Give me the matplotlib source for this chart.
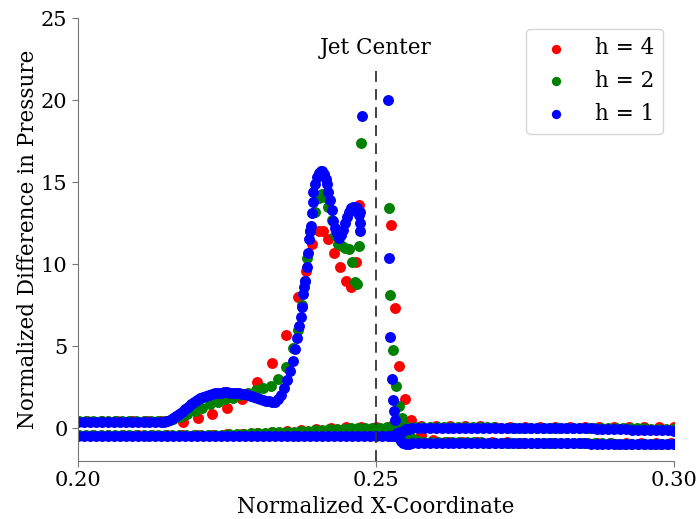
import matplotlib
matplotlib.use('Agg')
import matplotlib.pyplot as plt

plt.rcParams['font.family'] = 'serif'
plt.rcParams['font.serif'] = ['DejaVu Serif']

JET_X = 0.25
LABELS = ['h = 4', 'h = 2', 'h = 1']
COLORS = ['red', 'green', 'blue']

# h = 4 : upper surface (with the jet spike) and lower surface
red_up_x = [0.199, 0.2015, 0.204, 0.2065, 0.209, 0.2115, 0.214, 0.2150, 0.2176, 0.2201,
            0.2225, 0.2250, 0.2275, 0.2300, 0.2326, 0.2349, 0.2369, 0.2383, 0.2393, 0.2404,
            0.2411, 0.2419, 0.2430, 0.2440, 0.2450, 0.2458, 0.2466, 0.2471,
            0.2526, 0.2532, 0.2539, 0.2549, 0.2559, 0.2575, 0.2595, 0.2620,
            0.2645, 0.2670, 0.2695, 0.2720, 0.2745, 0.2770, 0.2795, 0.2820, 0.2845,
            0.2870, 0.2895, 0.2920, 0.2945, 0.2970, 0.2995, 0.3020]
red_up_y = [0.45, 0.45, 0.45, 0.45, 0.45, 0.45, 0.45, 0.42, 0.40, 0.60,
            0.88, 1.22, 1.80, 2.80, 4.00, 5.70, 8.00, 9.60, 11.2, 12.0,
            12.0, 11.5, 10.7, 9.80, 9.00, 8.60, 10.1, 13.6,
            12.4, 7.30, 3.80, 1.80, 0.50, -0.40, -0.75, -0.85,
            -0.86, -0.86, -0.87, -0.87, -0.88, -0.88, -0.89, -0.89, -0.90,
            -0.90, -0.91, -0.91, -0.92, -0.92, -0.93, -0.93]
red_lo_x = [0.2000, 0.2025, 0.2050, 0.2075, 0.2100, 0.2125, 0.2150, 0.2175, 0.2200, 0.2225,
            0.2250, 0.2275, 0.2300, 0.2325, 0.2350, 0.2375, 0.2400, 0.2425, 0.2450, 0.2475,
            0.2500, 0.2525, 0.2550, 0.2575, 0.2600, 0.2625, 0.2650, 0.2675, 0.2700, 0.2725,
            0.2750, 0.2775, 0.2800, 0.2825, 0.2850, 0.2875, 0.2900, 0.2925, 0.2950, 0.2975,
            0.3000]
red_lo_y = [-0.42, -0.42, -0.42, -0.42, -0.42, -0.42, -0.42, -0.42, -0.42, -0.40,
            -0.37, -0.33, -0.28, -0.23, -0.18, -0.12, -0.06, 0.00, 0.05, 0.08,
            0.10, 0.12, 0.12, 0.12, 0.11, 0.11, 0.11, 0.11, 0.10, 0.10,
            0.10, 0.10, 0.10, 0.09, 0.09, 0.08, 0.08, 0.07, 0.06, 0.06,
            0.05]

# h = 2
green_up_x = [0.1990, 0.2002, 0.2014, 0.2026, 0.2038, 0.2050, 0.2062, 0.2074, 0.2086, 0.2098,
              0.2110, 0.2122, 0.2134, 0.2146, 0.2159, 0.2171, 0.2183, 0.2196, 0.2208, 0.2221,
              0.2235, 0.2247, 0.2260, 0.2272, 0.2285, 0.2299, 0.2310, 0.2324, 0.2336, 0.2349,
              0.2361, 0.2369, 0.2376, 0.2381, 0.2384, 0.2389, 0.2398, 0.2404, 0.2409, 0.2414,
              0.2419, 0.2426, 0.2431, 0.2436, 0.2443, 0.2448, 0.2455, 0.2460, 0.2465, 0.2468,
              0.2471, 0.2475,
              0.2522, 0.2524, 0.2529, 0.2534, 0.2539, 0.2544, 0.2550, 0.2556, 0.2562, 0.2570,
              0.2580, 0.2592, 0.2604, 0.2616, 0.2628, 0.2640, 0.2652, 0.2664, 0.2676, 0.2688,
              0.2700, 0.2712, 0.2724, 0.2736, 0.2748, 0.2760, 0.2772, 0.2784, 0.2796, 0.2808,
              0.2820, 0.2832, 0.2844, 0.2856, 0.2868, 0.2880, 0.2892, 0.2904, 0.2916, 0.2928,
              0.2940, 0.2952, 0.2964, 0.2976, 0.2988, 0.3000, 0.3012]
green_up_y = [0.42, 0.42, 0.42, 0.42, 0.42, 0.42, 0.42, 0.42, 0.42, 0.42,
              0.42, 0.42, 0.42, 0.44, 0.55, 0.70, 0.85, 1.05, 1.25, 1.45,
              1.60, 1.75, 1.85, 2.00, 2.15, 2.30, 2.42, 2.56, 2.97, 3.70,
              4.86, 6.00, 7.50, 9.00, 10.4, 12.0, 13.2, 14.0, 14.3, 14.1,
              13.5, 12.7, 11.8, 11.2, 11.1, 11.0, 10.9, 10.1, 8.90, 8.80,
              11.1, 17.4,
              13.4, 8.10, 4.75, 2.60, 1.34, 0.60, 0.00, -0.40, -0.65, -0.80,
              -0.85, -0.86, -0.86, -0.86, -0.86, -0.87, -0.87, -0.87, -0.87, -0.88,
              -0.88, -0.88, -0.89, -0.89, -0.89, -0.90, -0.90, -0.90, -0.91, -0.91,
              -0.91, -0.92, -0.92, -0.92, -0.93, -0.93, -0.93, -0.94, -0.94, -0.94,
              -0.95, -0.95, -0.95, -0.95, -0.96, -0.96, -0.96]
green_lo_x = [0.1990, 0.2002, 0.2014, 0.2026, 0.2038, 0.2050, 0.2062, 0.2074, 0.2086, 0.2098,
              0.2110, 0.2122, 0.2134, 0.2146, 0.2158, 0.2170, 0.2182, 0.2194, 0.2206, 0.2218,
              0.2230, 0.2242, 0.2254, 0.2266, 0.2278, 0.2290, 0.2302, 0.2314, 0.2326, 0.2338,
              0.2350, 0.2362, 0.2374, 0.2386, 0.2398, 0.2410, 0.2422, 0.2434, 0.2446, 0.2458,
              0.2470, 0.2482, 0.2494, 0.2506, 0.2518, 0.2530, 0.2542, 0.2554, 0.2566, 0.2578,
              0.2590, 0.2602, 0.2614, 0.2626, 0.2638, 0.2650, 0.2662, 0.2674, 0.2686, 0.2698,
              0.2710, 0.2722, 0.2734, 0.2746, 0.2758, 0.2770, 0.2782, 0.2794, 0.2806, 0.2818,
              0.2830, 0.2842, 0.2854, 0.2866, 0.2878, 0.2890, 0.2902, 0.2914, 0.2926, 0.2938,
              0.2950, 0.2962, 0.2974, 0.2986, 0.2998, 0.3010]
green_lo_y = [-0.42, -0.42, -0.42, -0.42, -0.42, -0.42, -0.42, -0.42, -0.42, -0.42,
              -0.42, -0.42, -0.42, -0.42, -0.42, -0.42, -0.42, -0.42, -0.41, -0.41,
              -0.40, -0.39, -0.37, -0.35, -0.33, -0.31, -0.29, -0.28, -0.26, -0.25,
              -0.24, -0.22, -0.19, -0.16, -0.13, -0.11, -0.08, -0.06, -0.03, -0.02,
              0.00, 0.01, 0.03, 0.04, 0.05, 0.06, 0.06, 0.06, 0.06, 0.06,
              0.06, 0.05, 0.05, 0.05, 0.05, 0.05, 0.05, 0.05, 0.05, 0.05,
              0.04, 0.04, 0.04, 0.04, 0.04, 0.03, 0.03, 0.03, 0.03, 0.03,
              0.02, 0.02, 0.02, 0.01, 0.01, 0.00, 0.00, -0.01, -0.01, -0.02,
              -0.02, -0.03, -0.03, -0.04, -0.05, -0.05]

# h = 1
blue_up_x = [0.199, 0.200, 0.201, 0.202, 0.203, 0.204, 0.205, 0.206, 0.207, 0.208,
             0.209, 0.210, 0.211, 0.212, 0.213, 0.214,
             0.2145, 0.2150, 0.2155, 0.2160, 0.2165, 0.2170, 0.2175, 0.2180, 0.2185, 0.2190,
             0.2195, 0.2200, 0.2205, 0.2210, 0.2215, 0.2220, 0.2225, 0.2230, 0.2235, 0.2240,
             0.2245, 0.2250, 0.2255, 0.2260, 0.2265, 0.2270, 0.2275, 0.2280, 0.2285, 0.2290,
             0.2295, 0.2300, 0.2305, 0.2310, 0.2315, 0.2320, 0.2325, 0.2330, 0.2335, 0.2340,
             0.2345, 0.2350, 0.2355, 0.2360,
             0.2364, 0.2367, 0.2371, 0.2374, 0.2376, 0.2378, 0.2380, 0.2381, 0.2384, 0.2386,
             0.2388, 0.2390, 0.2391, 0.2393, 0.2394, 0.2395, 0.2398, 0.2401, 0.2404, 0.2407,
             0.2410, 0.2413, 0.2416, 0.2418, 0.2420, 0.2423, 0.2426, 0.2428, 0.2431, 0.2434,
             0.2438, 0.2441, 0.2445, 0.2448, 0.2451, 0.2455, 0.2458, 0.2461, 0.2465, 0.2468,
             0.2471, 0.2474, 0.2473, 0.2473, 0.2477,
             0.2520, 0.2522, 0.2524, 0.2527, 0.2529, 0.2530, 0.2532, 0.2535, 0.2538, 0.2542,
             0.2546, 0.2550, 0.2555, 0.2560, 0.2570, 0.2580, 0.2590, 0.2600,
             0.261, 0.262, 0.263, 0.264, 0.265, 0.266, 0.267, 0.268, 0.269, 0.270,
             0.271, 0.272, 0.273, 0.274, 0.275, 0.276, 0.277, 0.278, 0.279, 0.280,
             0.281, 0.282, 0.283, 0.284, 0.285, 0.286, 0.287, 0.288, 0.289, 0.290,
             0.291, 0.292, 0.293, 0.294, 0.295, 0.296, 0.297, 0.298, 0.299, 0.300, 0.301]
blue_up_y = [0.38, 0.38, 0.38, 0.38, 0.38, 0.38, 0.38, 0.38, 0.38, 0.38,
             0.38, 0.38, 0.38, 0.38, 0.38, 0.38,
             0.40, 0.42, 0.50, 0.60, 0.72, 0.85, 1.00, 1.15, 1.30, 1.45,
             1.60, 1.72, 1.82, 1.90, 1.97, 2.03, 2.08, 2.12, 2.15, 2.17,
             2.18, 2.18, 2.17, 2.16, 2.14, 2.12, 2.09, 2.06, 2.02, 1.97,
             1.92, 1.86, 1.80, 1.74, 1.68, 1.63, 1.60, 1.62, 1.75, 2.00,
             2.45, 2.95, 3.50, 4.10,
             4.80, 5.50, 6.20, 6.80, 7.40, 8.20, 8.60, 9.00, 9.80, 10.7,
             11.5, 12.0, 12.3, 13.1, 13.8, 14.4, 14.9, 15.3, 15.55, 15.7,
             15.7, 15.5, 15.2, 14.9, 14.4, 13.9, 13.3, 12.6, 12.2, 11.9,
             11.6, 11.8, 12.1, 12.5, 12.9, 13.2, 13.4, 13.5, 13.5, 13.4,
             13.0, 13.2, 12.5, 12.0, 19.0,
             20.0, 10.4, 5.55, 3.00, 1.70, 1.04, 0.50, -0.30, -0.60, -0.80,
             -0.92, -0.95, -0.95, -0.93, -0.90, -0.88, -0.88, -0.88,
             -0.88, -0.88, -0.88, -0.88, -0.88, -0.89, -0.89, -0.89, -0.89, -0.90,
             -0.90, -0.90, -0.90, -0.91, -0.91, -0.91, -0.91, -0.92, -0.92, -0.92,
             -0.92, -0.93, -0.93, -0.93, -0.93, -0.94, -0.94, -0.94, -0.94, -0.95,
             -0.95, -0.95, -0.95, -0.96, -0.96, -0.96, -0.96, -0.97, -0.97, -0.97, -0.97]
blue_lo_x = [0.199, 0.200, 0.201, 0.202, 0.203, 0.204, 0.205, 0.206, 0.207, 0.208,
             0.209, 0.210, 0.211, 0.212, 0.213, 0.214, 0.215, 0.216, 0.217, 0.218,
             0.219, 0.220, 0.221, 0.222, 0.223, 0.224, 0.225, 0.226, 0.227, 0.228,
             0.229, 0.230, 0.231, 0.232, 0.233, 0.234, 0.235, 0.236, 0.237, 0.238,
             0.239, 0.240, 0.241, 0.242, 0.243, 0.244, 0.245, 0.246, 0.247, 0.248,
             0.249, 0.250, 0.251, 0.252,
             0.2525, 0.2530, 0.2535, 0.2540, 0.2545, 0.2550, 0.2555, 0.2560, 0.2570, 0.2580,
             0.2590, 0.260, 0.261, 0.262, 0.263, 0.264, 0.265, 0.266, 0.267, 0.268,
             0.269, 0.270, 0.271, 0.272, 0.273, 0.274, 0.275, 0.276, 0.277, 0.278,
             0.279, 0.280, 0.281, 0.282, 0.283, 0.284, 0.285, 0.286, 0.287, 0.288,
             0.289, 0.290, 0.291, 0.292, 0.293, 0.294, 0.295, 0.296, 0.297, 0.298,
             0.299, 0.300, 0.301]
blue_lo_y = [-0.47, -0.47, -0.47, -0.47, -0.47, -0.47, -0.47, -0.47, -0.47, -0.47,
             -0.47, -0.47, -0.47, -0.47, -0.47, -0.47, -0.47, -0.47, -0.47, -0.47,
             -0.47, -0.47, -0.47, -0.47, -0.47, -0.47, -0.47, -0.48, -0.48, -0.48,
             -0.49, -0.49, -0.49, -0.50, -0.50, -0.50, -0.50, -0.50, -0.50, -0.50,
             -0.50, -0.50, -0.50, -0.50, -0.50, -0.50, -0.50, -0.50, -0.50, -0.50,
             -0.50, -0.50, -0.50, -0.50,
             -0.50, -0.45, -0.35, -0.25, -0.15, -0.08, -0.03, 0.00, 0.02, 0.03,
             0.03, 0.03, 0.03, 0.03, 0.03, 0.03, 0.03, 0.03, 0.03, 0.02,
             0.02, 0.02, 0.02, 0.02, 0.02, 0.02, 0.02, 0.01, 0.01, 0.01,
             0.01, 0.01, 0.01, 0.01, 0.00, 0.00, 0.00, -0.02, -0.03, -0.04,
             -0.05, -0.06, -0.07, -0.08, -0.09, -0.10, -0.11, -0.12, -0.13, -0.14,
             -0.14, -0.15, -0.15]

series = [
    (red_up_x + red_lo_x, red_up_y + red_lo_y),
    (green_up_x + green_lo_x, green_up_y + green_lo_y),
    (blue_up_x + blue_lo_x, blue_up_y + blue_lo_y),
]

fig = plt.figure(figsize=(6.98, 5.19), dpi=100)
ax = fig.add_axes([0.1117, 0.1118, 0.8539, 0.8535])

for (xs, ys), color, label in zip(series, COLORS, LABELS):
    ax.scatter(xs, ys, s=62, c=color, linewidths=0, label=label)

ax.vlines(JET_X, -2, 21.8, colors='#333333', linestyles=(0, (6, 4)), linewidth=1.3)
ax.text(JET_X, 23.2, 'Jet Center', ha='center', va='center', fontsize=15.5)

ax.set_xlim(0.20, 0.30)
ax.set_ylim(-2, 25)
ax.set_xticks([0.20, 0.25, 0.30])
ax.set_xticklabels(['0.20', '0.25', '0.30'])
ax.set_yticks([0, 5, 10, 15, 20, 25])

ax.spines['top'].set_visible(False)
ax.spines['right'].set_visible(False)
for side in ['left', 'bottom']:
    ax.spines[side].set_color('#777777')
ax.tick_params(colors='#777777', labelcolor='black', labelsize=15, length=4)

ax.set_xlabel('Normalized X-Coordinate', fontsize=15.5)
ax.set_ylabel('Normalized Difference in Pressure', fontsize=15.5, labelpad=1)

ax.legend(loc='upper right', fontsize=15.5, scatterpoints=1, markerscale=0.85)

fig.savefig('out.png', dpi=100)
